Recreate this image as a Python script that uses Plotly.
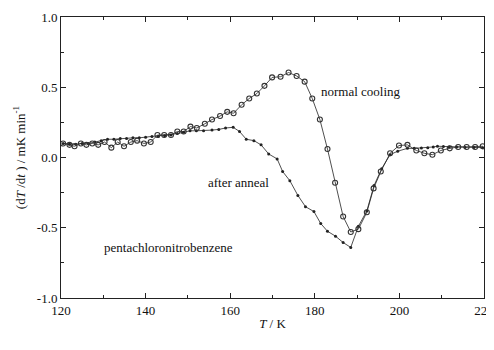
import plotly.graph_objects as go

# normal cooling (open circles)
nc_T = [120.5, 122.0, 123.2, 124.7, 126.0, 127.4, 128.8, 130.3, 131.9, 133.4, 134.9, 136.5,
        138.0, 139.6, 141.2, 142.8, 144.4, 146.0, 147.5, 149.0, 150.6, 152.1, 154.0, 155.7,
        157.6, 159.3, 160.8, 162.7, 164.5, 166.3, 168.1, 169.9, 171.9, 173.8, 175.7, 177.6,
        179.4, 181.2, 183.0, 184.8, 186.7, 188.5, 190.3, 192.3, 193.9, 195.6, 197.8, 199.9,
        201.9, 204.0, 205.9, 207.8, 209.8, 211.9, 213.9, 215.9, 217.9, 219.7]
nc_v = [0.10, 0.09, 0.08, 0.10, 0.09, 0.10, 0.09, 0.11, 0.07, 0.11, 0.08, 0.11,
        0.12, 0.10, 0.11, 0.16, 0.16, 0.16, 0.185, 0.185, 0.22, 0.21, 0.24, 0.27,
        0.295, 0.325, 0.315, 0.375, 0.42, 0.455, 0.51, 0.57, 0.575, 0.605, 0.58, 0.54,
        0.42, 0.27, 0.06, -0.18, -0.42, -0.53, -0.51, -0.39, -0.22, -0.10, 0.03, 0.085,
        0.09, 0.05, 0.03, 0.02, 0.05, 0.065, 0.075, 0.075, 0.075, 0.08]

# after anneal (small filled dots)
aa_T = [120.5, 122.0, 123.5, 125.0, 126.5, 128.0, 129.5, 131.0, 132.5, 134.0, 135.5, 137.0,
        138.5, 140.0, 141.5, 143.0, 144.5, 146.0, 147.5, 149.0, 150.5, 152.0, 153.7, 155.7,
        157.3, 158.9, 160.7, 162.2, 163.8, 165.6, 167.3, 169.1, 171.1, 172.4, 174.1, 176.0,
        177.8, 179.8, 181.4, 183.0, 184.9, 186.7, 188.5, 190.3, 192.3, 194.0, 195.8, 197.8,
        199.6, 201.9, 203.5, 205.2, 206.7, 208.0, 209.0, 210.4, 211.8, 213.5, 215.5, 217.6, 219.7]
aa_v = [0.10, 0.095, 0.095, 0.10, 0.10, 0.11, 0.12, 0.13, 0.13, 0.135, 0.135, 0.14,
        0.14, 0.145, 0.15, 0.15, 0.155, 0.16, 0.17, 0.18, 0.19, 0.19, 0.19, 0.195,
        0.20, 0.21, 0.215, 0.185, 0.13, 0.12, 0.09, 0.025, -0.01, -0.10, -0.165, -0.27,
        -0.35, -0.385, -0.47, -0.525, -0.56, -0.605, -0.64, -0.49, -0.38, -0.20, -0.08, 0.02,
        0.045, 0.065, 0.065, 0.068, 0.07, 0.075, 0.08, 0.078, 0.075, 0.075, 0.072, 0.072, 0.07]

x_ticks = [120, 140, 160, 180, 200, 220]
y_ticks = [-1.0, -0.5, 0.0, 0.5, 1.0]

font_family = "Liberation Serif, Times New Roman, serif"

fig = go.Figure()
fig.add_trace(go.Scatter(x=aa_T, y=aa_v, mode="lines+markers",
                         line=dict(color="#222", width=0.8),
                         marker=dict(symbol="circle", size=3, color="#222"),
                         showlegend=False))
fig.add_trace(go.Scatter(x=nc_T, y=nc_v, mode="lines+markers",
                         line=dict(color="#222", width=0.8),
                         marker=dict(symbol="circle-open", size=5, color="#333",
                                     line=dict(width=1.1)),
                         showlegend=False))

fig.add_annotation(x=191, y=0.47, text="normal cooling", showarrow=False,
                   xanchor="center", font=dict(size=13, color="#111", family=font_family))
fig.add_annotation(x=162, y=-0.18, text="after anneal", showarrow=False,
                   xanchor="center", font=dict(size=13, color="#111", family=font_family))
fig.add_annotation(x=145.3, y=-0.64, text="pentachloronitrobenzene", showarrow=False,
                   xanchor="center", font=dict(size=13, color="#111", family=font_family))

axis_common = dict(showgrid=False, zeroline=False, showline=True, linecolor="#222",
                   linewidth=1, mirror="ticks", ticks="inside", ticklen=5,
                   tickcolor="#222", automargin=False,
                   tickfont=dict(size=13, color="#111", family=font_family))

fig.update_xaxes(range=[120, 220], tickvals=x_ticks, ticktext=[str(v) for v in x_ticks],
                 minor=dict(dtick=10, tick0=120, ticks="inside", ticklen=3, tickcolor="#222"),
                 title=dict(text="<i>T</i> / K", font=dict(size=13, color="#111", family=font_family),
                            standoff=2),
                 **axis_common)
fig.update_yaxes(range=[-1.0, 1.0], tickvals=y_ticks, ticktext=["%.1f" % v for v in y_ticks],
                 minor=dict(dtick=0.25, tick0=0, ticks="inside", ticklen=3, tickcolor="#222"),
                 title=dict(text="(d<i>T</i> /d<i>t</i> ) / mK min<sup>-1</sup>",
                            font=dict(size=13, color="#111", family=font_family), standoff=8),
                 **axis_common)

fig.update_layout(width=494, height=350, plot_bgcolor="white", paper_bgcolor="white",
                  margin=dict(l=53, r=18, t=9, b=60), font=dict(family=font_family))

fig.write_html("out.html")
